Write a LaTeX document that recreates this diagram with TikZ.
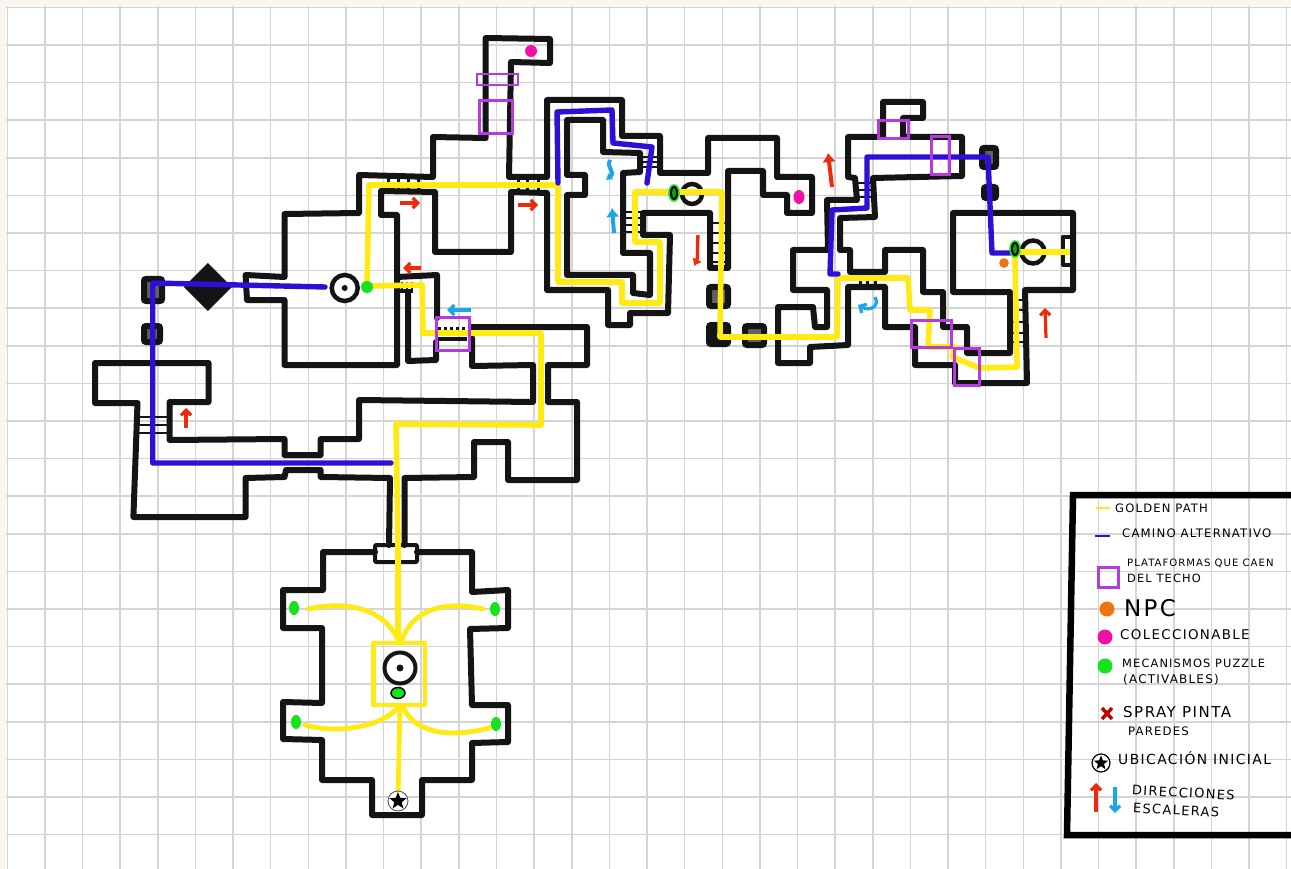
\documentclass[tikz,border=0pt]{standalone}
\usepackage{fontspec}
\usetikzlibrary{shapes.geometric,arrows.meta,calc}
\newfontfamily\handfont[LetterSpace=10]{DejaVu Sans}
\definecolor{papercream}{HTML}{FBF7F0}
\definecolor{gridgray}{HTML}{D4D4D4}
\definecolor{goldpath}{HTML}{FFEA14}
\definecolor{altpath}{HTML}{2C10D6}
\definecolor{platform}{HTML}{B53BE0}
\definecolor{puzzle}{HTML}{14E31E}
\definecolor{collect}{HTML}{F010A8}
\definecolor{npcdot}{HTML}{EF7410}
\definecolor{stairup}{HTML}{EE2A0A}
\definecolor{stairdown}{HTML}{1CA6E6}
\tikzset{
  gridline/.style={gridgray, line width=1.5pt},
  wall/.style={black!92, line width=6pt, line cap=round, line join=round},
  rung/.style={black!92, line width=2pt},
  block/.style={draw=black!92, fill=black!62, line width=6pt, rounded corners=2pt},
  golden/.style={goldpath, line width=5.6pt, line join=round},
  alternate/.style={altpath, line width=5.4pt, line cap=round, line join=round},
  ceiling/.style={draw=platform, line width=3pt},
  upstair/.style={-{Straight Barb[length=5pt,width=10pt]}, stairup, line width=3.2pt},
  downstair/.style={-{Straight Barb[length=5pt,width=10pt]}, stairdown, line width=3.2pt},
  blobstair/.style={-{Latex[length=9pt,width=14pt]}, line width=4pt},
  ring/.style={draw=black!92, line width=4.5pt, fill=white},
  legendtext/.style={font=\handfont\fontsize{#1}{#1}\selectfont, anchor=west, inner sep=0pt}
}
\begin{document}
\begin{tikzpicture}[x=1pt, y=-1pt, >=latex]
  \useasboundingbox (0,0) rectangle (1291,869);
  % Squared paper
  \fill[papercream] (0,0) rectangle (1291,869);
  \fill[white] (6,6) rectangle (1291,869);
  \foreach \k in {0,...,34} {
    \draw[gridline] ({7.3+37.63*\k},6) -- ({7.3+37.63*\k},869);
  }
  \foreach \k in {0,...,22} {
    \draw[gridline] (6,{7.4+37.6*\k}) -- (1291,{7.4+37.6*\k});
  }

  % Start room walls
  \draw[wall] (375,552) -- (323,552) -- (323,590) -- (283,590) -- (283,628) -- (322,628) -- (322,703) -- (283,702)
    -- (283,739) -- (322,740) -- (322,780) -- (372,780) -- (372,815) -- (422,815) -- (422,780) -- (472,780)
    -- (472,743) -- (508,742) -- (508,705) -- (472,705) -- (470,629) -- (508,628) -- (508,590) -- (472,592)
    -- (472,552) -- (417,552);
  \draw[wall, line width=4pt, rounded corners=1pt] (375,545) rectangle (417,562);
  \draw[wall] (389,545) -- (390,478) -- (320.7,477) -- (320.7,470) -- (286,470) -- (284.5,477) -- (245.6,478)
    -- (245.6,517) -- (133.4,517) -- (137.5,403) -- (95,403) -- (95,363) -- (208.5,363) -- (208.5,402)
    -- (169.6,402) -- (169.6,440) -- (284.5,439) -- (284.5,455) -- (320.7,455) -- (320.7,439) -- (359,439)
    -- (359,400) -- (533,402) -- (533,365) -- (472,366) -- (472,338);
  \draw[wall] (404.5,545) -- (404.5,478) -- (474,477) -- (474,442) -- (508,442) -- (508,480) -- (577,480)
    -- (577,402) -- (548,402) -- (548,365) -- (587,365) -- (587,327) -- (471,327);

  % Hub room walls
  \draw[wall] (397,365) -- (284.5,365) -- (284.5,300) -- (247,300) -- (245.6,275) -- (284.5,277) -- (284.5,214)
    -- (359,213) -- (359,175) -- (433,177) -- (433,137) -- (485.7,138) -- (485.7,38) -- (550,39) -- (550,63)
    -- (511,62) -- (509,177) -- (547,177) -- (547,100) -- (622,100) -- (622,136) -- (660,136) -- (660,173)
    -- (708,173) -- (708,138) -- (777,138) -- (777,177) -- (812,177) -- (812,213) -- (787,213) -- (787,195)
    -- (763,195) -- (763,171) -- (728,171) -- (728,268) -- (710,268) -- (710,213) -- (643,213) -- (643,235)
    -- (670,235) -- (668,313) -- (630,313) -- (630,325) -- (608,325) -- (608,290) -- (547,290) -- (547,193)
    -- (511,192) -- (511,252) -- (435,252) -- (435,192) -- (381,191) -- (381,215) -- (397,215) -- cycle;
  \draw[wall] (397,277) -- (437,275) -- (437,318);
  \draw[wall] (408,292) -- (408,361) -- (436,360) -- (436,342);
  \draw[wall] (567,120) -- (603,120) -- (603,152) -- (640,153) -- (640,172) -- (623,173) -- (623,253) -- (650,253)
    -- (650,295) -- (633,293) -- (633,275) -- (567,275) -- (567,195) -- (585,195) -- (585,175) -- (567,175) -- cycle;

  % East wing walls
  \draw[wall] (883,137) -- (883,102) -- (923,102) -- (923,118) -- (903,118) -- (903,137) -- (962,137) -- (962,176)
    -- (873,178) -- (875,217) -- (840,218) -- (840,250) -- (850,250) -- (850,272) -- (885,272) -- (885,250)
    -- (923,250) -- (923,292) -- (943,292) -- (943,327) -- (967,327) -- (967,353) -- (1010,353) -- (1010,292)
    -- (953,292) -- (953,213) -- (1073,213) -- (1073,290) -- (1025,290) -- (1027,383) -- (955,383) -- (955,365)
    -- (915,365) -- (915,327) -- (885,327) -- (885,287) -- (848,287) -- (848,345) -- (810,347) -- (810,363)
    -- (778,363) -- (778,307) -- (813,307) -- (815,327) -- (827,327) -- (827,290) -- (793,290) -- (793,250)
    -- (828,250) -- (827,200) -- (857,200) -- (855,178) -- (848,177) -- (848,137) -- cycle;
  \draw[wall, line width=4pt] (1073,237) -- (1063,237) -- (1063,265) -- (1073,265);

  % Stairs
  \foreach \x in {388,398,408,418,518,527,538} {
    \draw[rung, line width=3pt] (\x,178) -- (\x,190);
  }
  \foreach \y in {417,425,433} {
    \draw[rung] (139,\y) -- (168,\y);
  }
  \draw[rung, line width=4pt] (394,291) -- (413,291);
  \foreach \x in {397,402,407,412} {
    \draw[rung] (\x,282) -- (\x,292);
  }
  \draw[rung, line width=3pt, dashed] (438,328) -- (467,328);
  \draw[rung, line width=4pt] (438,339) -- (467,339);
  \foreach \y in {157,162,167} {
    \draw[rung] (642,\y) -- (658,\y);
  }
  \foreach \y in {212,218,225,232} {
    \draw[rung] (625,\y) -- (642,\y);
  }
  \foreach \y in {223,233,243,253,262} {
    \draw[rung] (712,\y) -- (728,\y);
  }
  \foreach \y in {183,190,197} {
    \draw[rung] (858,\y) -- (873,\y);
  }
  \foreach \x in {860,867,875} {
    \draw[rung, line width=3pt] (\x,274) -- (\x,286);
  }
  \foreach \y in {300,310,322,333,342} {
    \draw[rung] (1011,\y) -- (1026,\y);
  }

  % Loose blocks
  \draw[block] (144,279) rectangle (162,301);
  \draw[block] (144,326) rectangle (160,342);
  \fill[black!92] (207.8,263) -- (232,287) -- (207.8,311) -- (184,287) -- cycle;
  \draw[block] (709,287) rectangle (728,306);
  \draw[block, fill=black!92] (709,325) rectangle (728,344);
  \draw[block] (745,326) rectangle (764,345);
  \draw[block] (982,148) rectangle (996,167);
  \draw[block, fill=black!92] (984,187) rectangle (996,198);

  % Savepoints
  \draw[ring] (344.7,288) circle (13);
  \fill[black!92] (344.7,288) circle (3);
  \draw[ring, line width=4pt] (400,668) circle (15.5);
  \fill[black!92] (400,668) circle (3.5);
  \draw[ring, fill=none] (692,194) circle (10);
  \draw[ring, fill=none] (1033,252) circle (11.5);

  % Golden path
  \draw[golden] (558,185) -- (369,185) -- (367,287);
  \draw[golden] (367,286) -- (422,285) -- (423,333) -- (541,333) -- (541,425) -- (396,424) -- (398,545) -- (398,640);
  \draw[golden] (558,185) -- (558,282) -- (622,282) -- (622,303) -- (660,303) -- (660,242) -- (635,242) -- (635,192)
    -- (722,192) -- (720,337) -- (837,337) -- (838,278) -- (908,278) -- (910,310) -- (930,310) -- (928,347)
    -- (955,347) -- (952,357) -- (980,368) -- (1017,367) -- (1015,257);
  \draw[golden] (1020,252) -- (1070,252);
  \draw[golden, line width=4.5pt] (373.5,643) rectangle (425,705);
  \draw[golden, line cap=round, line width=4.8pt] (308,609) .. controls (350,600) and (385,610) .. (398,640);
  \draw[golden, line cap=round, line width=4.8pt] (483,609) .. controls (445,600) and (412,610) .. (402,640);
  \draw[golden, line cap=round, line width=4.8pt] (305,725) .. controls (340,735) and (385,725) .. (398,707);
  \draw[golden, line cap=round, line width=4.8pt] (492,727) .. controls (455,738) and (415,735) .. (403,707);
  \draw[golden, line width=4.8pt] (400,705) -- (398,797);

  % Alternative path
  \draw[alternate] (325,287) -- (152.7,283) -- (152.7,463) -- (391,463);
  \draw[alternate] (558,183) -- (557,112) -- (612,110) -- (613,143) -- (652,147) -- (647,183);
  \draw[alternate] (838,274) -- (830,274) -- (832,210) -- (867,208) -- (867,157) -- (988,157) -- (992,253) -- (1010,253);

  % Ceiling platforms
  \draw[ceiling, line width=2.4pt] (477,74) rectangle (518,85);
  \draw[ceiling] (479.6,101) rectangle (512.7,134);
  \draw[ceiling] (436,317) rectangle (469,350);
  \draw[ceiling] (878,121) rectangle (908,139);
  \draw[ceiling] (931,137) rectangle (949,175);
  \draw[ceiling] (911,320) rectangle (951,347);
  \draw[ceiling] (954,348) rectangle (979,385);

  % Collectables, puzzle switches, NPC
  \fill[collect] (531,51) circle (6);
  \fill[collect] (799,197) ellipse (5.5 and 7);
  \fill[puzzle] (367,287) circle (6);
  \foreach \x/\y in {294/608,495/609,296/722,496/724} {
    \fill[puzzle] (\x,\y) ellipse (5 and 7);
  }
  \draw[puzzle, fill=puzzle, draw=black, line width=1.5pt] (398,693) ellipse (7 and 5.5);
  \draw[draw=puzzle, fill=black, line width=1.6pt] (674,193) ellipse (5 and 8);
  \fill[puzzle!90!black, fill opacity=0.8] (674,193) ellipse (2 and 5);
  \draw[draw=puzzle, fill=black, line width=1.6pt] (1015,249) ellipse (5 and 8);
  \fill[puzzle!90!black, fill opacity=0.8] (1015,249) ellipse (2 and 5);
  \fill[npcdot] (1004,263) circle (4.8);

  % Start marker
  \draw[black!70, fill=white, line width=0.8pt] (398,801) circle (10);
  \node[star, star points=5, star point ratio=2.3, fill=black, inner sep=0pt, minimum size=18pt] (startstar) at (398,801) {};

  % Stair directions
  \draw[upstair] (399.5,203) -- (420,203);
  \draw[upstair] (518,205) -- (538,205);
  \draw[upstair] (421,268) -- (403,268);
  \draw[upstair] (186,428) -- (186,408);
  \draw[blobstair, stairup] (832,187) -- (828,153);
  \draw[blobstair, stairup, line width=3.4pt, -{Latex[length=7pt,width=11pt]}] (698,235) .. controls (697,250) and (698,258) .. (694,266);
  \draw[upstair] (1046,338) -- (1045,308);
  \draw[downstair] (470.5,310) -- (447,310);
  \draw[blobstair, stairdown, -{Latex[length=6pt,width=9pt]}] (610,160) .. controls (606,168) and (616,172) .. (606,180);
  \draw[blobstair, stairdown] (614,233) -- (612,208);
  \draw[downstair] (875,297) .. controls (880,306) and (870,312) .. (858,305);

  % Legend
  \draw[black, line width=6.5pt] (1291,495) -- (1073,495) -- (1067,835) -- (1291,835);
  \draw[goldpath, line width=2.6pt] (1096,508) -- (1110,508);
  \node[legendtext=11.6] (goldenlabel) at (1115,508) {GOLDEN PATH};
  \draw[altpath, line width=2.6pt] (1095,536) -- (1110,536);
  \node[legendtext=11.7] (altlabel) at (1122,533) {CAMINO ALTERNATIVO};
  \draw[ceiling] (1098,567) rectangle (1118,587);
  \node[legendtext=10.1] (platformlabel) at (1127,563) {PLATAFORMAS QUE CAEN};
  \node[legendtext=11.4] (techolabel) at (1127,578) {DEL TECHO};
  \fill[npcdot] (1107,609) circle (7.5);
  \node[legendtext=23] (npclabel) at (1124,608) {NPC};
  \fill[collect] (1105,637) circle (7.5);
  \node[legendtext=13.4] (collectlabel) at (1120,635) {COLECCIONABLE};
  \fill[puzzle] (1105,666) circle (7.5);
  \node[legendtext=11.4] (puzzlelabel) at (1122,663) {MECANISMOS PUZZLE};
  \node[legendtext=12] (activelabel) at (1123,680) {(ACTIVABLES)};
  \draw[red!75!black, line width=3.4pt] (1102,708) -- (1112,719) (1112,708) -- (1102,719);
  \node[legendtext=15] (spraylabel) at (1123,712) {SPRAY PINTA};
  \node[legendtext=11.7] (paredlabel) at (1128,731) {PAREDES};
  \draw[black, fill=white, line width=1.2pt] (1101,763) circle (9);
  \node[star, star points=5, star point ratio=2.3, fill=black, inner sep=0pt, minimum size=15pt] (legendstar) at (1101,763) {};
  \node[legendtext=13.9] (startlabel) at (1118,758) {UBICACIÓN INICIAL};
  \draw[upstair] (1096,812) -- (1096,783);
  \draw[downstair] (1115,787) -- (1115,813);
  \node[legendtext=13, rotate=-3] (dirlabel) at (1132,790) {DIRECCIONES};
  \node[legendtext=13, rotate=-3] (stairlabel) at (1133,808) {ESCALERAS};
\end{tikzpicture}
\end{document}
